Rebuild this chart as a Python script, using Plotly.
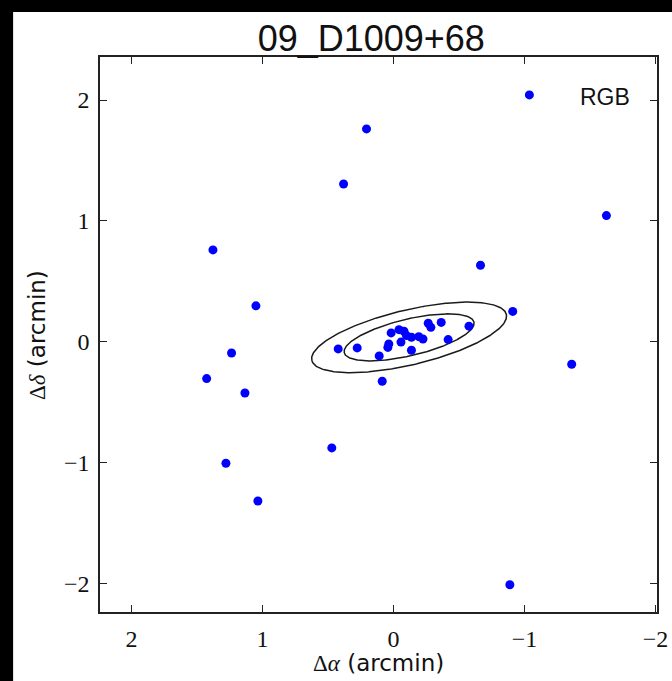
import numpy as np
import plotly.graph_objects as go

# RGB star offsets (arcmin)
d_alpha = [-1.037, 0.206, 0.381, -1.625, 1.378, -0.664, 1.050, -0.910, 1.236, 1.426,
           1.134, -1.360, 0.086, 0.471, 1.279, 1.035, -0.888,
           0.422, 0.277, 0.109, 0.043, 0.036, 0.018, -0.042, -0.080, -0.099, -0.057,
           -0.137, -0.193, -0.225, -0.137, -0.265, -0.285, -0.364, -0.576, -0.417]
d_delta = [2.042, 1.761, 1.305, 1.043, 0.759, 0.632, 0.296, 0.250, -0.094, -0.306,
           -0.425, -0.187, -0.328, -0.880, -1.007, -1.319, -2.012,
           -0.060, -0.052, -0.118, -0.048, -0.019, 0.072, 0.099, 0.086, 0.050, -0.004,
           0.036, 0.041, 0.022, -0.071, 0.152, 0.118, 0.159, 0.128, 0.017]

# ellipse parameters (arcmin, degrees)
ell_center = (-0.119, 0.035)
ell_a = 0.511
ell_b = 0.151
ell_theta = -14.6
ell_scales = [1.0, 1.5]

tick_vals = [-2, -1, 0, 1, 2]
tick_text = ["\u22122", "\u22121", "0", "1", "2"]

fig = go.Figure()

phi = np.linspace(0, 2 * np.pi, 400)
th = np.deg2rad(ell_theta)
for s in ell_scales:
    a, b = ell_a * s, ell_b * s
    ex = ell_center[0] + a * np.cos(phi) * np.cos(th) - b * np.sin(phi) * np.sin(th)
    ey = ell_center[1] + a * np.cos(phi) * np.sin(th) + b * np.sin(phi) * np.cos(th)
    fig.add_trace(go.Scatter(x=ex, y=ey, mode="lines",
                             line=dict(color="#1a1a1a", width=1.5),
                             showlegend=False, hoverinfo="skip"))

fig.add_trace(go.Scatter(x=d_alpha, y=d_delta, mode="markers", name="RGB",
                         marker=dict(color="#0000ff", size=9, line=dict(width=0)),
                         showlegend=False))

axis_common = dict(
    tickmode="array", tickvals=tick_vals, ticktext=tick_text,
    ticks="inside", ticklen=7, tickwidth=1, tickcolor="#222",
    showline=True, linecolor="#222", linewidth=1.5, mirror="ticks",
    showgrid=False, zeroline=False, automargin=False,
    tickfont=dict(family="Liberation Serif", size=24, color="#111"),
    ticklabelstandoff=4,
)

fig.update_xaxes(range=[2.24, -2.011], **axis_common)
fig.update_yaxes(range=[-2.238, 2.356], **axis_common)

# axis titles
fig.add_annotation(x=0.5, y=-(663 - 612) / 555, xref="paper", yref="paper",
                   text="<span style='font-family:Liberation Serif'>\u0394<i>\u03b1</i></span> (arcmin)",
                   showarrow=False, xanchor="center", yanchor="middle",
                   font=dict(family="DejaVu Sans", size=23, color="#111"))
fig.add_annotation(x=-(100 - 37) / 557, y=1 - (335 - 57) / 555, xref="paper", yref="paper",
                   text="<span style='font-family:Liberation Serif'>\u0394<i>\u03b4</i></span> (arcmin)",
                   showarrow=False, xanchor="center", yanchor="middle", textangle=-90,
                   font=dict(family="DejaVu Sans", size=23, color="#111"))

fig.add_annotation(x=(632 - 100) / 557, y=1 - (97 - 57) / 555, xref="paper", yref="paper",
                   text="RGB", showarrow=False, xanchor="right", yanchor="middle",
                   font=dict(family="Liberation Sans", size=23, color="#111"))

# black border strips around the figure (top and left)
fig.add_shape(type="rect", xref="paper", yref="paper", x0=-0.2, x1=1.1,
              y0=1.081, y1=1.2, fillcolor="black", line=dict(width=0), layer="above")
fig.add_shape(type="rect", xref="paper", yref="paper", x0=-0.2, x1=-0.156,
              y0=-0.2, y1=1.2, fillcolor="black", line=dict(width=0), layer="above")

fig.update_layout(
    width=672, height=681,
    margin=dict(l=100, r=15, t=57, b=69),
    paper_bgcolor="white", plot_bgcolor="white",
    title=dict(text="09_D1009+68", x=0.487, xref="paper", xanchor="center",
               y=1 - 38 / 681, yanchor="middle",
               font=dict(family="Liberation Sans", size=36, color="#111")),
)

fig.write_html("out.html")
